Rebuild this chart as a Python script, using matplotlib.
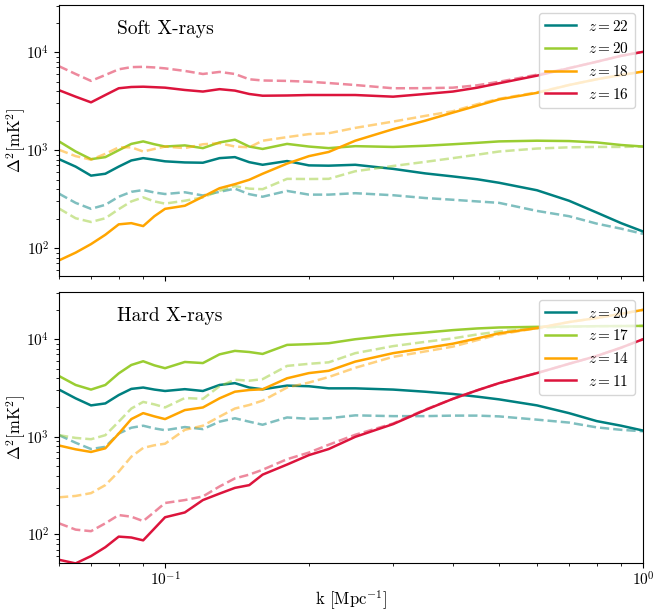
import matplotlib
matplotlib.use("Agg")
import matplotlib.pyplot as plt

plt.rcParams['font.family'] = 'serif'
plt.rcParams['font.serif'] = ['cmr10']
plt.rcParams['mathtext.fontset'] = 'cm'
plt.rcParams['axes.formatter.use_mathtext'] = True

k = [0.06, 0.065, 0.07, 0.075, 0.08, 0.085, 0.09, 0.095, 0.1, 0.11, 0.12, 0.13, 0.14, 0.15,
     0.16, 0.18, 0.2, 0.22, 0.25, 0.3, 0.35, 0.4, 0.45, 0.5, 0.6, 0.7, 0.8, 0.9, 1.0]

# soft X-ray heating: solid = fiducial, dashed = comparison run
soft_z = [22, 20, 18, 16]
soft_solid = [
    [810, 680, 550, 575, 680, 786, 830, 800, 770, 750, 745, 830, 850, 755,
     710, 775, 700, 695, 710, 645, 580, 540, 505, 465, 390, 305, 231, 180, 148],
    [1230, 970, 810, 850, 1000, 1160, 1230, 1150, 1090, 1120, 1050, 1200, 1280, 1090,
     1030, 1160, 1090, 1050, 1100, 1080, 1110, 1150, 1190, 1230, 1250, 1240, 1200, 1130, 1090],
    [75, 90, 110, 137, 175, 180, 168, 212, 252, 271, 335, 409, 450, 499,
     575, 730, 870, 960, 1250, 1640, 2000, 2420, 2850, 3300, 3850, 4630, 5300, 5860, 6350],
    [4100, 3520, 3080, 3660, 4290, 4420, 4450, 4400, 4350, 4120, 3970, 4200, 4060, 3750,
     3600, 3620, 3660, 3660, 3660, 3520, 3750, 3970, 4350, 4830, 5770, 6870, 8000, 9200, 10100],
]
soft_dashed = [
    [360, 290, 252, 277, 335, 376, 392, 370, 357, 372, 345, 376, 405, 356,
     335, 384, 352, 352, 364, 347, 325, 312, 300, 290, 240, 212, 178, 158, 140],
    [254, 202, 185, 202, 250, 300, 330, 300, 285, 305, 330, 385, 430, 405,
     400, 510, 508, 510, 610, 690, 760, 830, 900, 970, 1040, 1070, 1080, 1080, 1090],
    [1010, 870, 800, 918, 1070, 1070, 970, 1030, 1090, 1050, 1150, 1180, 1090, 1070,
     1250, 1360, 1460, 1490, 1690, 1960, 2240, 2500, 2950, 3350, 3900, 4630, 5300, 5860, 6350],
    [7200, 6000, 5100, 5860, 6700, 7050, 7100, 7000, 6850, 6450, 6000, 6300, 6000, 5300,
     5150, 5100, 5000, 4850, 4630, 4290, 4300, 4350, 4600, 5000, 5900, 6900, 8000, 9200, 10100],
]

# hard X-ray heating
hard_z = [20, 17, 14, 11]
hard_solid = [
    [3050, 2480, 2100, 2200, 2680, 3100, 3200, 3050, 2950, 3080, 2950, 3400, 3550, 3200,
     3070, 3350, 3300, 3140, 3140, 3050, 2900, 2750, 2580, 2420, 2100, 1750, 1450, 1300, 1160],
    [4200, 3400, 3050, 3400, 4470, 5450, 5950, 5400, 5050, 5850, 5700, 7000, 7600, 7400,
     7070, 8750, 8900, 9100, 10000, 11000, 11700, 12400, 12900, 13200, 13400, 13500, 13600, 13650, 13700],
    [815, 745, 700, 763, 1080, 1520, 1750, 1620, 1520, 1880, 2000, 2480, 2900, 3020,
     3070, 3980, 4500, 4750, 5900, 7200, 8100, 9000, 10200, 11500, 13000, 15000, 16500, 18200, 20000],
    [55, 50.5, 60, 74, 95, 93, 87, 115, 150, 168, 225, 262, 300, 320,
     410, 520, 650, 750, 1000, 1350, 1880, 2450, 3000, 3550, 4500, 5600, 6740, 8200, 10000],
]
hard_dashed = [
    [1040, 870, 750, 790, 1080, 1240, 1300, 1220, 1170, 1260, 1200, 1430, 1550, 1430,
     1330, 1580, 1530, 1550, 1660, 1630, 1630, 1650, 1650, 1620, 1500, 1400, 1250, 1180, 1140],
    [1040, 975, 945, 1040, 1430, 1950, 2280, 2150, 2000, 2500, 2450, 3300, 3850, 3760,
     3900, 5330, 5600, 5800, 7200, 8500, 9400, 10200, 11200, 12000, 13000, 13400, 13600, 13650, 13700],
    [240, 248, 265, 320, 440, 626, 770, 820, 850, 1180, 1300, 1610, 1950, 2120,
     2350, 3200, 3600, 4100, 5100, 6600, 7500, 8400, 9800, 11200, 13000, 15000, 16500, 18200, 20000],
    [130, 112, 108, 130, 158, 152, 137, 170, 210, 225, 245, 310, 375, 410,
     460, 590, 690, 830, 1050, 1370, 1900, 2450, 3000, 3550, 4500, 5600, 6740, 8200, 10000],
]

colors = ['teal', 'yellowgreen', 'orange', 'crimson']


def draw_panel(ax, zs, solid, dashed, title, ylim):
    for z, ys, yd, c in zip(zs, solid, dashed, colors):
        ax.plot(k, yd, '--', color=c, lw=1.8, alpha=0.5)
        ax.plot(k, ys, '-', color=c, lw=1.8, label=r'$z = %d$' % z)
    ax.set_xscale('log')
    ax.set_yscale('log')
    ax.set_xlim(0.06, 1.0)
    ax.set_ylim(*ylim)
    ax.set_ylabel(r'$\Delta^2[\mathrm{mK}^2]$', fontsize=12)
    ax.yaxis.set_label_coords(-0.053, 0.5)
    ax.tick_params(labelsize=11)
    ax.tick_params(axis='x', pad=2)
    ax.text(0.1, 0.91, title, transform=ax.transAxes, fontsize=14, va='center')
    ax.legend(loc='upper right', fontsize=11)


fig = plt.figure(figsize=(6.55, 6.13), dpi=100)
ax1 = fig.add_axes([0.0901, 0.5498, 0.8916, 0.4421])
ax2 = fig.add_axes([0.0901, 0.0816, 0.8916, 0.4421], sharex=ax1)

draw_panel(ax1, soft_z, soft_solid, soft_dashed, 'Soft X-rays', (52, 3.04e4))
draw_panel(ax2, hard_z, hard_solid, hard_dashed, 'Hard X-rays', (51, 3.05e4))
ax1.tick_params(labelbottom=False)
ax2.set_xlabel(r'k [Mpc$^{-1}$]', fontsize=12)
ax2.xaxis.set_label_coords(0.5, -0.095)

fig.savefig('out.png', dpi=100)
